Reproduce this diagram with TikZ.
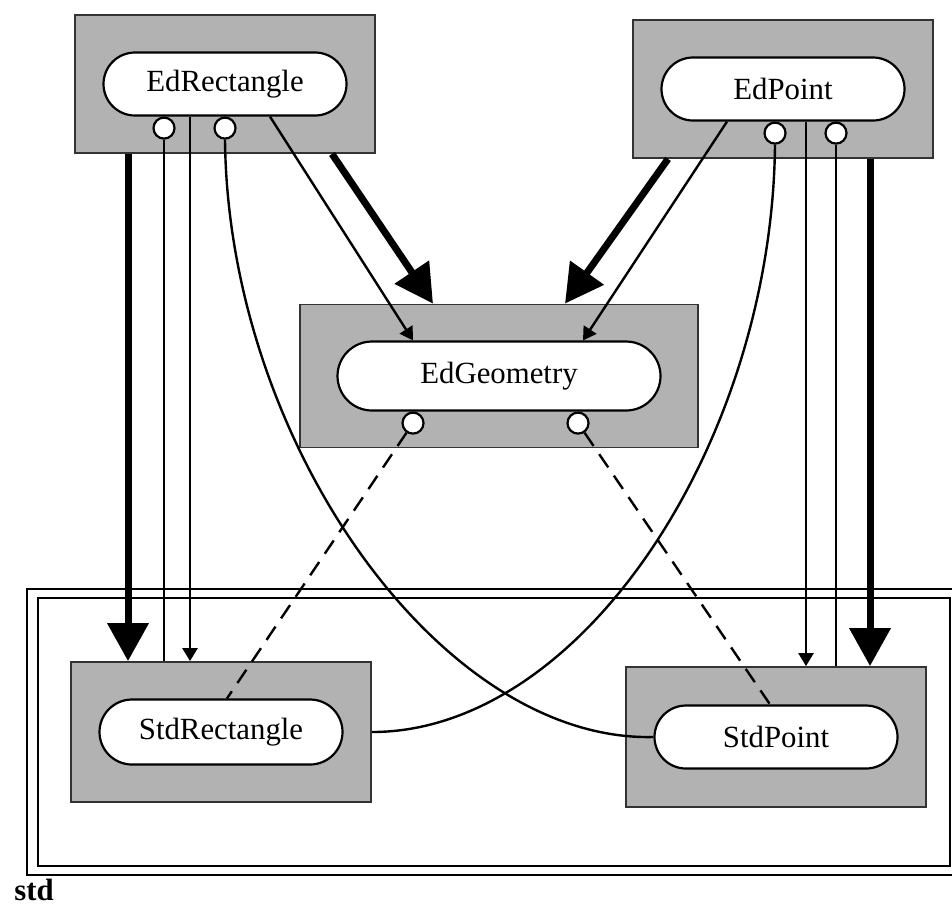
\documentclass[tikz,border=0pt]{standalone}
\usepackage{fontspec}
\setmainfont{Liberation Serif}
\usetikzlibrary{arrows.meta, calc}
\definecolor{boxgray}{gray}{0.7}

\begin{document}
\begin{tikzpicture}[
  x=0.5pt, y=-0.5pt,
  font=\fontsize{15.4}{18}\selectfont,
  pkg/.style={rectangle, draw=black!80, line width=0.9pt, fill=boxgray, minimum width=150pt, minimum height=69pt, inner sep=0pt},
  cls/.style={rectangle, rounded corners=15.75pt, draw, line width=1.1pt, fill=white, minimum width=121.5pt, minimum height=31.5pt, inner sep=0pt},
  port/.style={circle, draw, line width=1.1pt, fill=white, minimum size=10.5pt, inner sep=0pt},
  heavy/.style={-{Triangle[width=20pt,length=19pt]}, line width=3.5pt},
  uses/.style={-{Triangle[width=7.5pt,length=6.5pt]}, line width=1.2pt},
  link/.style={line width=1.2pt},
  dep/.style={line width=1.2pt, dash pattern=on 8pt off 5pt}
]
\useasboundingbox (0,0) rectangle (952,907);

% package frame
\draw [line width=0.8pt] (952,589) -- (27,589) -- (27,875) -- (952,875);
\draw [line width=0.8pt] (38,598) rectangle (950,866);
\node (stdlabel) [anchor=base west, inner sep=0pt, font=\fontsize{15.4}{18}\selectfont\bfseries] at (14,900) {std};

% classes
\node (edrectbox) [pkg] at (225,84) {};
\node (edrect) [cls] at (edrectbox) {EdRectangle};
\node (edpointbox) [pkg] at (783,89) {};
\node (edpoint) [cls] at (edpointbox) {EdPoint};
\node (edgeombox) [pkg, minimum width=199pt, minimum height=71.5pt] at (499,376) {};
\node (edgeom) [cls, minimum width=161.5pt, minimum height=34.5pt, rounded corners=17.25pt] at (edgeombox) {EdGeometry};
\node (stdrectbox) [pkg, minimum height=70pt] at (221,732) {};
\node (stdrect) [cls, minimum height=32.5pt, rounded corners=16.25pt] at (stdrectbox) {StdRectangle};
\node (stdpointbox) [pkg, minimum height=70pt] at (776,737) {};
\node (stdpoint) [cls] at (stdpointbox) {StdPoint};

% interface ports
\node (edrectp1) [port] at ($(edrect.south)+(-61,11.5)$) {};
\node (edrectp2) [port] at ($(edrect.south)+(0,11.5)$) {};
\node (edpointp1) [port] at ($(edpoint.south)+(-8,11.5)$) {};
\node (edpointp2) [port] at ($(edpoint.south)+(53,11.5)$) {};
\node (edgeomp1) [port] at ($(edgeom.south)+(-86,11.5)$) {};
\node (edgeomp2) [port] at ($(edgeom.south)+(79,11.5)$) {};

% EdRectangle -> StdRectangle
\coordinate (r0) at ($(edrectbox.south)+(-97,0)$);
\coordinate (r2) at ($(edrect.south)+(-35,0)$);
\draw [heavy] (r0) -- (r0 |- stdrectbox.north);
\draw [link] (edrectp1) -- (edrectp1 |- stdrectbox.north);
\draw [uses] (r2) -- (r2 |- stdrectbox.north);

% EdPoint -> StdPoint
\coordinate (p0) at ($(edpointbox.south)+(87,0)$);
\coordinate (p2) at ($(edpoint.south)+(23,0)$);
\draw [heavy] (p0) -- (p0 |- stdpointbox.north);
\draw [link] (edpointp2) -- (edpointp2 |- stdpointbox.north);
\draw [uses] (p2) -- (p2 |- stdpointbox.north);

% both editors -> EdGeometry
\draw [uses] ($(edrect.south)+(45,0)$) -- ($(edgeom.north)+(-86,0)$);
\draw [heavy] ($(edrectbox.south)+(107,0)$) -- ($(edgeombox.north)+(-66,0)$);
\draw [heavy] ($(edpointbox.south)+(-115,0)$) -- ($(edgeombox.north)+(66,0)$);
\draw [uses] ($(edpoint.south)+(-56,0)$) -- ($(edgeom.north)+(84,0)$);

% EdGeometry ports
\draw [dep] (edgeomp1) -- ($(stdrect.north)+(6,0)$);
\draw [dep] (edgeomp2) -- ($(stdpoint.north)+(-6,0)$);

% crossing links
\draw [link] (edrectp2.south) .. controls +(3,302) and +(-213,5) .. (stdpoint.west);
\draw [link] (edpointp1.south) .. controls +(-3,297) and +(210,0) .. (stdrectbox.east);
\end{tikzpicture}
\end{document}
